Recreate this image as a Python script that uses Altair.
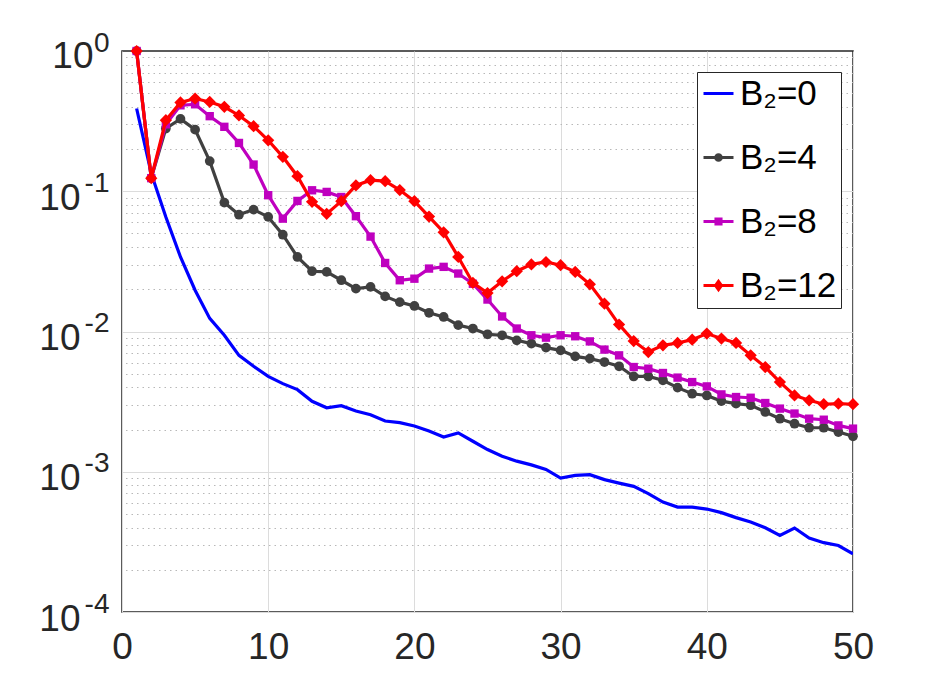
import altair as alt
import pandas as pd

# ---- data ----
xs = list(range(1, 51))
series_names = ["B₂=0", "B₂=4", "B₂=8", "B₂=12"]
colors = ["#0000ff", "#404040", "#bf00bf", "#ff0000"]

b0 = [0.389, 0.134, 0.0656, 0.034, 0.0197, 0.0124, 0.0094, 0.00676, 0.00565, 0.00479,
      0.00425, 0.00385, 0.00318, 0.00286, 0.00296, 0.00271, 0.00255, 0.0023, 0.00224, 0.00212,
      0.00195, 0.00177, 0.00189, 0.00165, 0.00144, 0.00129, 0.00119, 0.00112, 0.00104, 0.000902,
      0.000942, 0.000953, 0.000879, 0.00083, 0.000787, 0.000698, 0.000608, 0.00056, 0.00056, 0.000542,
      0.000511, 0.000471, 0.000438, 0.000399, 0.000352, 0.000397, 0.000337, 0.000312, 0.000298, 0.00026]
b4 = [1.0, 0.124, 0.28, 0.328, 0.275, 0.164, 0.083, 0.068, 0.074, 0.0656,
      0.049, 0.034, 0.0269, 0.0266, 0.0232, 0.0202, 0.0208, 0.0178, 0.0162, 0.0152,
      0.0136, 0.0127, 0.0111, 0.0105, 0.00955, 0.0094, 0.00865, 0.0082, 0.00768, 0.00734,
      0.00665, 0.00641, 0.00606, 0.00565, 0.00478, 0.00478, 0.00449, 0.00398, 0.0036, 0.0035,
      0.00319, 0.00306, 0.00298, 0.00267, 0.00239, 0.0022, 0.00206, 0.00206, 0.00192, 0.00179]
b8 = [1.0, 0.124, 0.30, 0.41, 0.417, 0.343, 0.288, 0.221, 0.155, 0.0937,
      0.0638, 0.0853, 0.1016, 0.0989, 0.091, 0.0664, 0.0475, 0.0308, 0.0232, 0.0238,
      0.0281, 0.0289, 0.0259, 0.0219, 0.0169, 0.0128, 0.0105, 0.0094, 0.00904, 0.0094,
      0.00925, 0.0085, 0.00743, 0.00676, 0.00558, 0.00543, 0.00506, 0.00469, 0.00436, 0.00406,
      0.00356, 0.00341, 0.00337, 0.00309, 0.00282, 0.0026, 0.00239, 0.00235, 0.00214, 0.00203]
b12 = [1.0, 0.124, 0.321, 0.43, 0.458, 0.433, 0.40, 0.347, 0.291, 0.231,
       0.176, 0.128, 0.084, 0.069, 0.085, 0.110, 0.12, 0.118, 0.102, 0.085,
       0.066, 0.051, 0.034, 0.0222, 0.0188, 0.0228, 0.0269, 0.0301, 0.0313, 0.0297,
       0.0266, 0.0217, 0.0158, 0.0112, 0.00855, 0.00714, 0.00797, 0.00828, 0.00875, 0.00966,
       0.0089, 0.00828, 0.00676, 0.00558, 0.00436, 0.0035, 0.00323, 0.00303, 0.00306, 0.00303]

x_ticks = [0, 10, 20, 30, 40, 50]
y_major = [1e-4, 1e-3, 1e-2, 1e-1, 1.0]
y_minor = [m * 10.0 ** e for e in range(-4, 0) for m in range(2, 10)]

rows = []
for name, vals in zip(series_names, [b0, b4, b8, b12]):
    for xv, yv in zip(xs, vals):
        rows.append({"x": xv, "v": yv, "series": name})
df = pd.DataFrame(rows)

FONT = "Liberation Sans"
TXT = "#262626"
BASE_FS = 37
EXP_FS = 28

xenc = alt.X("x:Q", scale=alt.Scale(domain=[0, 50], nice=False),
             axis=alt.Axis(values=x_ticks, grid=True, gridColor="#dcdcdc", gridWidth=1,
                           labelFontSize=BASE_FS, labelFont=FONT, labelColor=TXT, labelPadding=17,
                           ticks=False, tickSize=0, domain=False, title=None, format="d",
                           labelFlush=False))
yscale = alt.Scale(type="log", domain=[1e-4, 1], nice=False)

base = alt.Chart(df)

major_axis = alt.Axis(orient="left", values=y_major[:-1], labelExpr="'10'", grid=True,
                      gridColor="#dcdcdc", gridWidth=1, labelFontSize=BASE_FS, labelFont=FONT,
                      labelColor=TXT, labelAlign="right", labelBaseline="middle",
                      labelPadding=42, labelOffset=7, ticks=False, tickSize=0,
                      domain=False, title=None)
exp_axis = alt.Axis(orient="left", values=y_major,
                    labelExpr="datum.value >= 0.5 ? '0' : '-' + round(-log(datum.value) / LN10)",
                    grid=False, labelFontSize=EXP_FS, labelFont=FONT, labelColor=TXT,
                    labelAlign="right", labelBaseline="middle", labelPadding=13,
                    labelOffset=-8, ticks=False, tickSize=0, domain=False, title=None)

marker_def = {
    series_names[1]: ("circle", 95),
    series_names[2]: ("square", 70),
    series_names[3]: ("diamond", 150),
}

layers = []
first = True
for name, col in zip(series_names, colors):
    sub = base.transform_filter(alt.datum.series == name)
    layers.append(
        sub.mark_line(strokeWidth=3.2, color=col, clip=True).encode(
            x=xenc,
            y=alt.Y("v:Q", scale=yscale, axis=major_axis if first else None),
            order=alt.Order("x:Q"),
        )
    )
    first = False
    if name in marker_def:
        shp, sz = marker_def[name]
        layers.append(
            sub.mark_point(filled=True, opacity=1, strokeWidth=1, shape=shp, size=sz,
                           color=col).encode(
                x=xenc,
                y=alt.Y("v:Q", scale=yscale,
                        axis=exp_axis if name == series_names[1] else None),
            )
        )

# Legend-only layer + minor dotted grid
legend_paths = [
    "M-1,0H1",
    "M-1,0H1M-0.19,0A0.19,0.19,0,1,1,0.19,0A0.19,0.19,0,1,1,-0.19,0Z",
    "M-1,0H1M-0.17,-0.17H0.17V0.17H-0.17Z",
    "M-1,0H1M0,-0.28L0.2,0L0,0.28L-0.2,0Z",
]
leg = dict(title=None, orient="none", legendX=575, legendY=21,
           labelFontSize=35, labelFont=FONT, labelColor="#000000",
           symbolSize=900, symbolStrokeWidth=3, rowPadding=28,
           padding=4, labelOffset=4, strokeColor="#262626",
           fillColor="white", symbolOpacity=1)
legend_layer = base.transform_filter("false").mark_point(
    filled=False, opacity=1, size=900, strokeWidth=3
).encode(
    x=xenc,
    y=alt.Y("v:Q", scale=yscale,
            axis=alt.Axis(orient="right", values=y_minor, labels=False, grid=True,
                          gridColor="#b8b8b8", gridDash=[1.5, 4], gridWidth=1,
                          ticks=False, tickSize=0, domain=False, title=None)),
    color=alt.Color("series:N", scale=alt.Scale(domain=series_names, range=colors),
                    legend=alt.Legend(**leg)),
    fill=alt.Fill("series:N", scale=alt.Scale(domain=series_names, range=colors),
                  legend=alt.Legend(**leg)),
    shape=alt.Shape("series:N", scale=alt.Scale(domain=series_names, range=legend_paths),
                    legend=alt.Legend(**leg)),
)
layers.append(legend_layer)

# "10" label for 10^0
layers.append(
    base.transform_filter("false").mark_point().encode(
        x=xenc,
        y=alt.Y("v:Q", scale=yscale,
                axis=alt.Axis(orient="left", values=[1.0], labelExpr="'10'", grid=False,
                              labelFontSize=BASE_FS, labelFont=FONT, labelColor=TXT,
                              labelAlign="right", labelBaseline="middle", labelPadding=29,
                              labelOffset=5, ticks=False, tickSize=0, domain=False, title=None)),
    )
)

chart = alt.layer(*layers).resolve_axis(y="independent").properties(
    width=731, height=561,
    autosize=alt.AutoSizeParams(type="none"),
    padding={"left": 114, "top": 43, "right": 80, "bottom": 60},
    background="white",
).configure_view(stroke="#262626", strokeWidth=1.5)

chart.save("out.html", embed_options={"renderer": "svg", "actions": False})
